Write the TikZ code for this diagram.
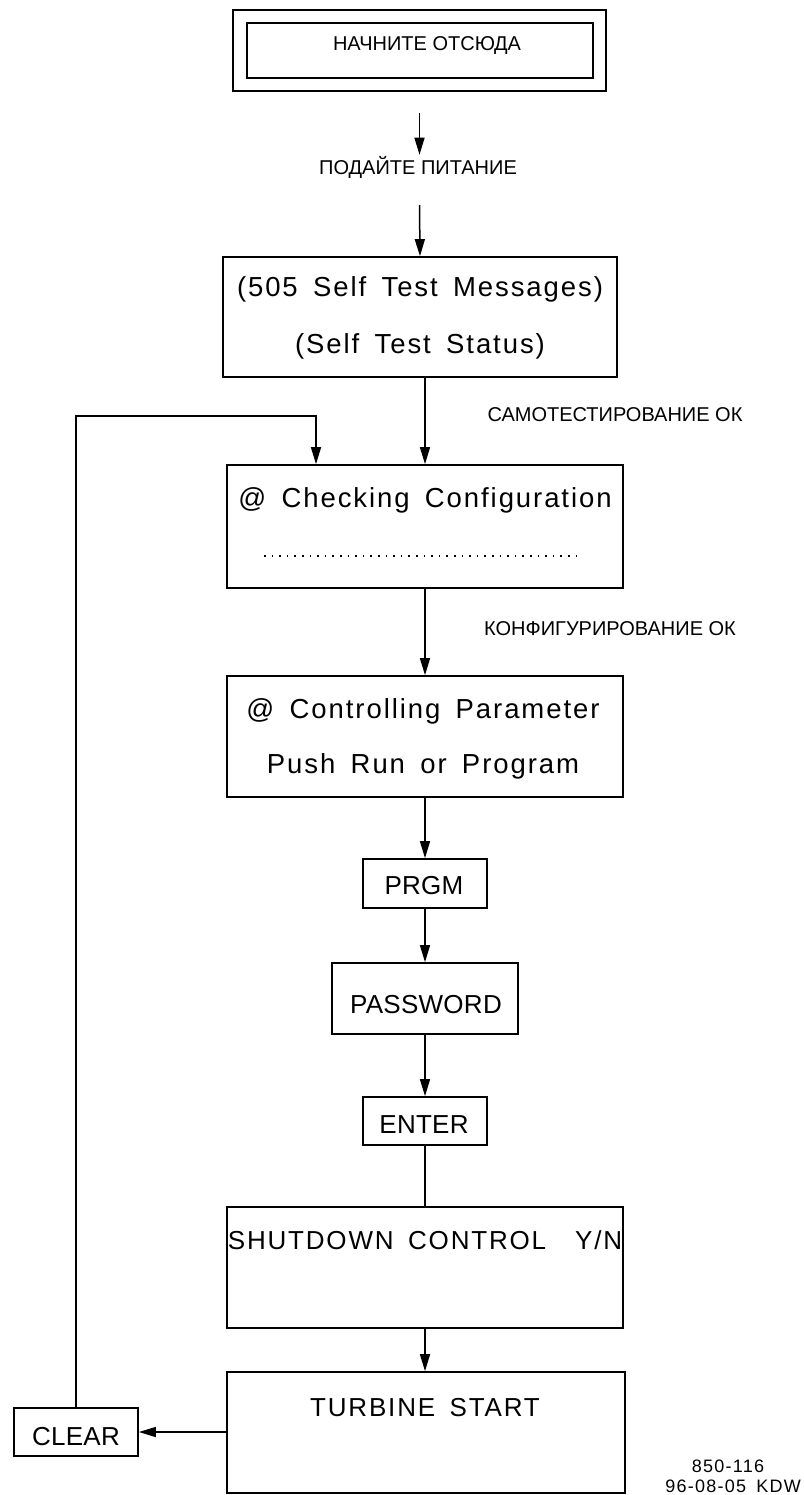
\documentclass[tikz,border=0pt]{standalone}
\usepackage{fontspec}
\setmainfont{Liberation Sans}
\newfontfamily\cad[LetterSpace=7,WordSpace=1.6]{Liberation Sans}
\newfontfamily\keyfont[LetterSpace=1]{Liberation Sans}
\usetikzlibrary{arrows.meta}
\begin{document}
\begin{tikzpicture}[x=1pt,y=-1pt,
  box/.style={draw, line width=1.7pt, inner sep=0pt},
  arr/.style={line width=1.5pt, -{Triangle[length=17pt,width=10pt]}},
  conn/.style={line width=1.5pt},
  txt/.style={inner sep=0pt, anchor=base, font=\cad\fontsize{27.5}{27.5}\selectfont},
  keytxt/.style={inner sep=0pt, anchor=base, font=\keyfont\fontsize{26}{26}\selectfont},
  rulab/.style={inner sep=0pt, anchor=base, font=\fontsize{20}{20}\selectfont},
  note/.style={inner sep=0pt, anchor=base, font=\cad\fontsize{18}{18}\selectfont}]
\useasboundingbox (0,0) rectangle (803,1495);

% boxes
\node[box, minimum width=373pt, minimum height=81pt] (outer) at (419.5,50.5) {};
\node[box, minimum width=346pt, minimum height=55pt] (inner) at (420,50.5) {};
\node[box, minimum width=394pt, minimum height=120pt] (b505) at (420,317) {};
\node[box, minimum width=396pt, minimum height=123pt] (check) at (425,526.5) {};
\node[box, minimum width=396pt, minimum height=121pt] (ctrl) at (425,736.5) {};
\node[box, minimum width=124pt, minimum height=49pt] (prgm) at (425,883.5) {};
\node[box, minimum width=186pt, minimum height=71pt] (pass) at (425,998.5) {};
\node[box, minimum width=124pt, minimum height=48pt] (enter) at (425,1121) {};
\node[box, minimum width=396pt, minimum height=121pt] (shut) at (425,1267.5) {};
\node[box, minimum width=398pt, minimum height=121pt] (turb) at (426,1432.5) {};
\node[box, minimum width=124pt, minimum height=48pt] (clear) at (76,1432) {};

% texts
\node[rulab] (tstart) at (427,51) {НАЧНИТЕ ОТСЮДА};
\node[rulab] (power) at (418,175) {ПОДАЙТЕ ПИТАНИЕ};
\node[txt] (t505a) at (420,297) {(505 Self Test Messages)};
\node[txt] (t505b) at (420,353) {(Self Test Status)};
\node[rulab] (selfok) at (615,421) {САМОТЕСТИРОВАНИЕ ОК};
\node[txt] (tcheck) at (425,507) {@ Checking Configuration};
\node[rulab] (confok) at (610,635) {КОНФИГУРИРОВАНИЕ ОК};
\node[txt] (tctrla) at (423,718) {@ Controlling Parameter};
\node[txt] (tctrlb) at (423,773) {Push Run or Program};
\node[keytxt] (tprgm) at (424,894) {PRGM};
\node[keytxt] (tpass) at (426,1013) {PASSWORD};
\node[keytxt] (tenter) at (424,1133) {ENTER};
\node[txt, font=\cad\fontsize{26}{26}\selectfont] (tshut) at (425,1249) {SHUTDOWN CONTROL\ \ Y/N};
\node[txt, font=\cad\fontsize{26}{26}\selectfont] (tturb) at (425,1416) {TURBINE START};
\node[keytxt] (tclear) at (76,1445) {CLEAR};
\node[note] (n1) at (728,1472) {850-116};
\node[note, anchor=base east] (n2) at (801,1492) {96-08-05 KDW};

% dotted line inside the checking box
\draw[line width=1.6pt, dash pattern=on 1.6pt off 6pt]
  ([xshift=-161pt,yshift=-29.5pt]check.center) -- ([xshift=158pt,yshift=-29.5pt]check.center);

% connectors
\draw[arr] ([yshift=-21pt]outer.south) -- ([yshift=2pt]outer.south |- power.north);
\draw[arr] ([yshift=-26pt]outer.south |- power.south) -- (b505.north);
\draw[arr] (b505.south -| check.north) -- (check.north);
\draw[arr] (clear.north) |- ([xshift=-109pt,yshift=48pt]check.north) -- ([xshift=-109pt]check.north);
\draw[arr] (check.south) -- (check.south |- ctrl.north);
\draw[arr] (ctrl.south) -- (ctrl.south |- prgm.north);
\draw[arr] (prgm.south) -- (prgm.south |- pass.north);
\draw[arr] (pass.south) -- (pass.south |- enter.north);
\draw[conn] (enter.south) -- (enter.south |- shut.north);
\draw[arr] (shut.south) -- (shut.south |- turb.north);
\draw[arr] (turb.west |- clear.east) -- (clear.east);
\end{tikzpicture}
\end{document}
